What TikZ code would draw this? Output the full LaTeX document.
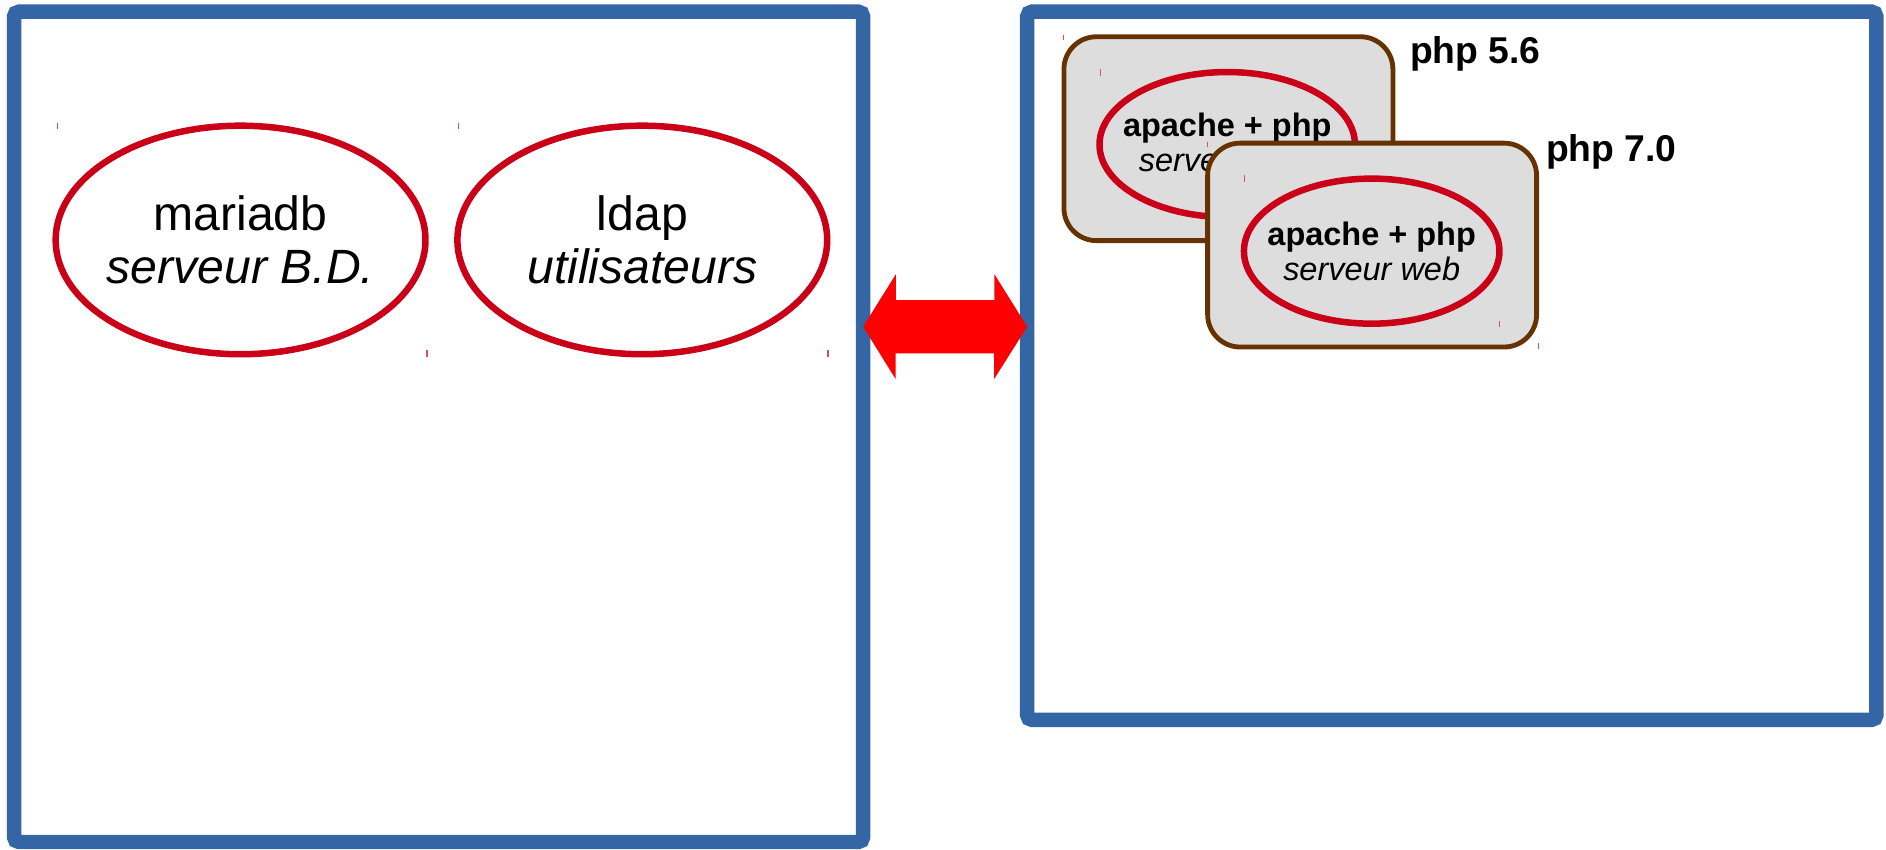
\documentclass[tikz,border=0pt]{standalone}
\usepackage{fontspec}
\setmainfont{Liberation Sans}
\usetikzlibrary{shapes.geometric,calc}
\definecolor{boxblue}{HTML}{3465A4}
\definecolor{ellred}{HTML}{C90017}
\definecolor{tickred}{HTML}{D9505A}
\definecolor{brownline}{HTML}{663300}
\definecolor{grayfill}{HTML}{DDDDDD}
\definecolor{arrowred}{HTML}{FF0000}
\tikzset{
  hostbox/.style={rectangle, draw=boxblue, line width=6pt, rounded corners=2pt, inner sep=0pt, outer sep=0pt},
  bigservice/.style={ellipse, draw=ellred, line width=2.7pt, minimum width=153.75pt, minimum height=95pt, inner sep=0pt, outer sep=0pt},
  bigtext/.style={inner sep=0pt, align=center, font=\fontsize{20}{22.25}\selectfont},
  container/.style={rectangle, draw=brownline, fill=grayfill, line width=2pt, rounded corners=13.5pt, minimum width=136.75pt, minimum height=84.75pt, inner sep=0pt, outer sep=0pt},
  smallservice/.style={ellipse, draw=ellred, line width=2.7pt, minimum width=106.2pt, minimum height=60.3pt, inner sep=0pt, outer sep=0pt},
  smalltext/.style={inner sep=0pt, align=center, font=\fontsize{13.5}{14.5}\selectfont},
  phplabel/.style={anchor=base west, inner sep=0pt, font=\fontsize{15.5}{18}\selectfont\bfseries},
  marktick/.style={draw=tickred, line width=0.45pt},
}
\begin{document}
\begin{tikzpicture}[x=0.5pt,y=-0.5pt]
\useasboundingbox (0,0) rectangle (1568,706);
% host boxes
\node[hostbox, minimum width=352.95pt, minimum height=345.15pt] (hostL) at (364.65,354.85) {};
\node[hostbox, minimum width=353pt, minimum height=294.4pt] (hostR) at (1207,304.1) {};
% left services
\node[bigservice] (mariadb) at (200,199.5) {};
\node[bigtext] (mariadbtxt) at (mariadb.center) {mariadb\\\textit{serveur B.D.}};
\node[bigservice] (ldap) at (534,199.5) {};
\node[bigtext] (ldaptxt) at (ldap.center) {ldap\\\textit{utilisateurs}};
% containers
\node[container] (c56) at (1021.3,115.3) {};
\node[smallservice] (web56) at (1020.3,120.2) {};
\node[smalltext] (web56txt) at ($(web56.center)+(0,-1.5)$) {\textbf{apache + php}\\\textit{serveur web}};
\node[container] (c70) at (1140.75,203.75) {};
\node[smallservice] (web70) at (1140.4,208.8) {};
\node[smalltext] (web70txt) at (web70.center) {\textbf{apache + php}\\\textit{serveur web}};
\node[phplabel] (l56) at (1172,52.7) {php 5.6};
\node[phplabel] (l70) at (1285,134.4) {php 7.0};
% double arrow between hosts
\coordinate (amid) at (786,271.6);
\fill[arrowred] (hostL.east |- amid) -- ++(27.3,-43.8) -- ++(0,21.7) -- ++(81.7,0) -- ++(0,-21.7)
  -- (hostR.west |- amid) -- ++(-27.6,43.7) -- ++(0,-21.6) -- ++(-81.7,0) -- ++(0,21.6) -- cycle;
% small frame ticks
\foreach \tx/\ta/\tb in {47.5/102/107.5, 381/102/107.5, 355/291/297, 688.4/291/297,
  884/29/33.5, 915/57.4/63, 1003.8/117.8/122, 1034.3/145.5/151.6, 1247/266.6/272, 1279/285.4/290.4}
  \draw[marktick] (\tx,\ta) -- (\tx,\tb);
\end{tikzpicture}
\end{document}
